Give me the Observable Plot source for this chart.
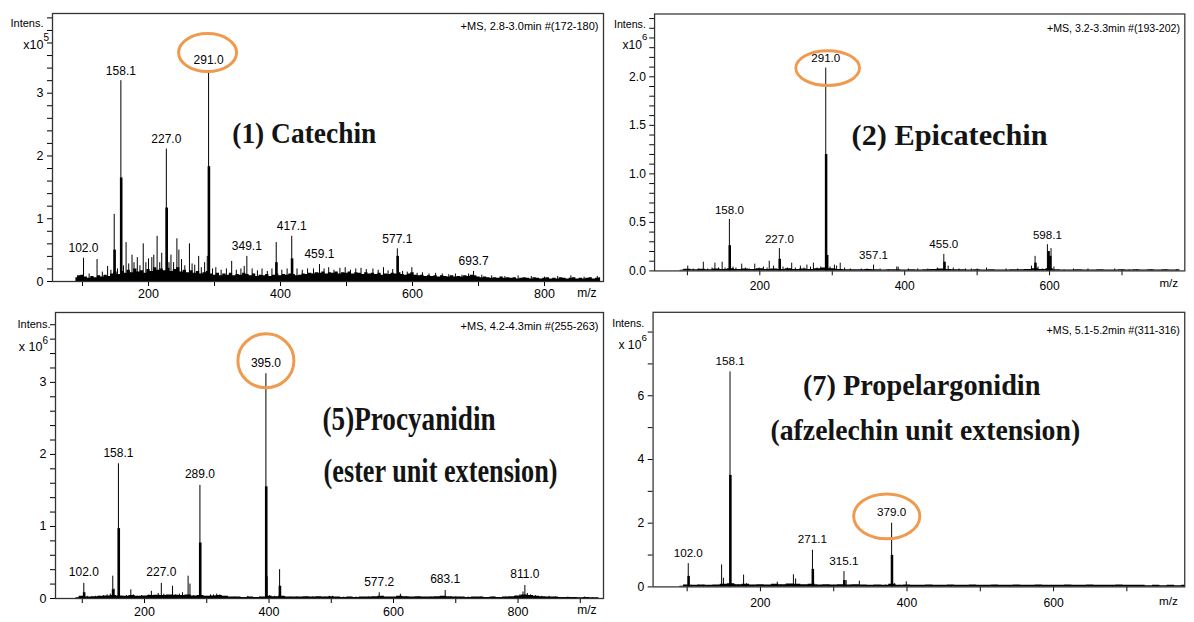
<!DOCTYPE html>
<html><head><meta charset="utf-8">
<script src="https://cdn.jsdelivr.net/npm/d3@7"></script>
<script src="https://cdn.jsdelivr.net/npm/@observablehq/plot@0.6"></script>
<style>
html,body{margin:0;padding:0;background:#fff;overflow:hidden;}
#wrap{position:relative;width:1194px;height:622px;overflow:hidden;background:#fff;}
.panel{position:absolute;}
.panel svg{overflow:visible;display:block;}
</style></head><body><div id="wrap"></div>
<script>
// ---------- Panel 1: (1) Catechin, intensity x10^5 ----------
const p1_peaks = [[101.5,0.37],[110,0.12],[122,0.35],[130,0.15],[138,0.24],[143,0.18],[148,1.07],[153,0.2],[158.1,3.2],[162,0.25],
[166,0.62],[170,0.28],[175,0.42],[178,0.3],[183,0.38],[187,0.25],[192,0.6],[196,0.3],[200,0.36],[205,0.38],
[208,0.42],[213,0.72],[217,0.3],[220,0.45],[227,2.11],[231,0.3],[234,0.42],[238,0.3],[243,0.68],[246,0.5],
[250,0.35],[255,0.25],[262,0.6],[266,0.28],[270,0.26],[276,0.4],[280,0.22],[285,0.3],[289,0.4],[291,3.36],
[297,0.2],[302,0.22],[310,0.18],[318,0.2],[326,0.32],[333,0.18],[340,0.2],[345,0.24],[349,0.4],[357,0.2],
[365,0.17],[372,0.2],[380,0.16],[387,0.2],[393.5,0.62],[402,0.18],[410,0.2],[417,0.72],[425,0.2],[433,0.18],
[441,0.2],[450,0.2],[459,0.27],[466,0.2],[473,0.22],[481,0.18],[490,0.21],[498,0.22],[506,0.18],[514,0.2],
[522,0.21],[530,0.19],[540,0.2],[548,0.18],[556,0.22],[563,0.17],[570,0.19],[577,0.52],[585,0.16],[592,0.15],
[599,0.22],[607,0.13],[615,0.14],[625,0.12],[635,0.13],[645,0.12],[655,0.11],[665,0.12],[675,0.1],[685,0.12],
[692.5,0.16],[705,0.1],[720,0.09],[740,0.08],[760,0.09],[780,0.08],[800,0.07],[820,0.08],[840,0.09],[860,0.07],[880,0.08]];
const p1_bodies = [[148.6,0.5],[158.6,1.65],[227.5,1.17],[291.5,1.83],[393.8,0.3],[417.5,0.36],[577.5,0.4]];
const p1_noiseStart = 90, p1_noiseStep = 5;
const p1_noise = [0.06,0.09,0.1,0.07,0.05,0.08,0.06,0.09,0.07,0.1,0.08,0.12,0.15,0.11,0.16,0.13,0.18,0.14,0.2,0.15,
0.17,0.13,0.19,0.16,0.22,0.18,0.2,0.17,0.21,0.16,0.19,0.22,0.15,0.18,0.14,0.17,0.13,0.16,0.12,0.14,
0.16,0.12,0.1,0.13,0.09,0.12,0.1,0.13,0.09,0.11,0.1,0.13,0.11,0.09,0.12,0.08,0.1,0.09,0.11,0.08,
0.1,0.12,0.09,0.11,0.1,0.12,0.11,0.09,0.1,0.12,0.11,0.13,0.12,0.14,0.13,0.15,0.12,0.14,0.13,0.15,
0.12,0.14,0.13,0.15,0.12,0.14,0.13,0.11,0.14,0.12,0.13,0.11,0.13,0.1,0.12,0.11,0.13,0.12,0.14,0.11,
0.1,0.12,0.14,0.1,0.09,0.1,0.08,0.09,0.08,0.09,0.07,0.09,0.08,0.07,0.09,0.07,0.08,0.07,0.09,0.08,
0.1,0.09,0.07,0.06,0.07,0.06,0.05,0.06,0.05,0.07,0.05,0.06,0.05,0.06,0.04,0.05,0.06,0.05,0.04,0.06,
0.05,0.04,0.05,0.06,0.04,0.05,0.04,0.06,0.05,0.04,0.05,0.06,0.04,0.05,0.04,0.05,0.06,0.04,0.05,0.06];
const p1_labelMz = [101.5,158.1,227,291,349,417,459,577,692.5];
const p1_labelText = ["102.0","158.1","227.0","291.0","349.1","417.1","459.1","577.1","693.7"];
const p1_xTicks = [100,200,300,400,500,600,700,800];
const p1_xMajor = [200,400,600,800];
const p1_yTicks = [0,0.2,0.4,0.6,0.8,1,1.2,1.4,1.6,1.8,2,2.2,2.4,2.6,2.8,3,3.2,3.4,3.6,3.8,4,4.2];
const p1_yMajor = [0,1,2,3];
const p1_yMajorText = ["0","1","2","3"];
const p1_titles = ["(1) Catechin"];
const p1_ms = "+MS, 2.8-3.0min #(172-180)";
const p1_exp = "5";

// ---------- Panel 2: (2) Epicatechin, intensity x10^6 ----------
const p2_peaks = [[94,0.01],[100.5,0.05],[108,0.02],[115,0.02],[122,0.09],[128,0.02],[134,0.03],[138,0.08],[143,0.03],[148,0.09],
[152,0.03],[158,0.53],[163,0.04],[167,0.03],[175,0.07],[180,0.03],[186,0.02],[193,0.07],[199,0.03],[205,0.04],
[210,0.03],[213,0.1],[219,0.05],[227,0.23],[232,0.04],[238,0.03],[244,0.08],[249,0.03],[256,0.05],[261,0.03],
[265,0.06],[270,0.04],[274,0.08],[279,0.03],[284,0.04],[291,2.09],[297,0.04],[303,0.06],[306,0.05],[311,0.08],
[317,0.03],[325,0.02],[340,0.02],[348,0.02],[357,0.06],[366,0.02],[378,0.01],[389,0.04],[391,0.04],[405,0.02],
[418,0.02],[432,0.02],[445,0.03],[454,0.17],[460,0.05],[467,0.03],[475,0.02],[484,0.02],[492,0.02],[500,0.02],
[513,0.03],[540,0.02],[556,0.02],[575,0.05],[580,0.15],[584,0.04],[590,0.02],[597,0.27],[599,0.2],[602,0.23],
[606,0.04],[620,0.01],[633,0.02],[653,0.02],[690,0.02],[700,0.01],[710,0.01],[720,0.01],[740,0.01],[760,0.01],[775,0.01]];
const p2_bodies = [[158.5,0.26],[227.5,0.12],[291.5,1.2],[293,0.16],[455,0.09],[580.5,0.08],[598.5,0.2],[601,0.15]];
const p2_noiseStart = 90, p2_noiseStep = 10;
const p2_noise = [0.006,0.018,0.012,0.018,0.012,0.02,0.016,0.022,0.016,0.02,0.016,0.022,0.016,0.02,0.016,0.022,0.016,0.02,0.016,0.022,
0.03,0.022,0.016,0.012,0.012,0.012,0.014,0.012,0.01,0.012,0.012,0.01,0.012,0.01,0.012,0.014,0.02,0.016,0.012,0.012,
0.01,0.012,0.01,0.012,0.01,0.01,0.012,0.012,0.016,0.022,0.016,0.022,0.012,0.01,0.01,0.012,0.01,0.01,0.012,0.01,
0.01,0.012,0.01,0.012,0.01,0.012,0.01,0.012,0.01,0.012];
const p2_labelMz = [158,227,291,357,454,597];
const p2_labelText = ["158.0","227.0","291.0","357.1","455.0","598.1"];
const p2_xTicks = [100,200,300,400,500,600,700];
const p2_xMajor = [200,400,600];
const p2_yTicks = [0,0.1,0.2,0.3,0.4,0.5,0.6,0.7,0.8,0.9,1,1.1,1.2,1.3,1.4,1.5,1.6,1.7,1.8,1.9,2,2.1,2.2,2.3,2.4,2.5,2.6];
const p2_yMajor = [0,0.5,1,1.5,2];
const p2_yMajorText = ["0.0","0.5","1.0","1.5","2.0"];
const p2_titles = ["(2) Epicatechin"];
const p2_ms = "+MS, 3.2-3.3min #(193-202)";
const p2_exp = "6";

// ---------- Panel 3: (5) Procyanidin, intensity x10^6 ----------
const p3_peaks = [[96,0.02],[102.5,0.21],[108,0.03],[115,0.02],[121,0.03],[128,0.03],[134,0.04],[140,0.05],[145,0.06],[149,0.31],
[151,0.13],[158.1,1.87],[165,0.03],[171,0.04],[178,0.12],[182,0.05],[188,0.03],[195,0.04],[201,0.03],[207,0.05],
[211,0.1],[216,0.04],[222,0.07],[227,0.21],[231,0.06],[236,0.04],[245,0.17],[250,0.05],[256,0.06],[261,0.08],
[266,0.04],[270,0.31],[273,0.2],[279,0.04],[284,0.03],[289,1.57],[294,0.04],[300,0.03],[306,0.05],[311,0.05],
[316,0.06],[321,0.05],[328,0.03],[345,0.02],[366,0.03],[385,0.02],[395,3.12],[397,0.3],[401,0.04],[409,0.03],
[417,0.4],[425,0.03],[435,0.02],[445,0.02],[460,0.02],[470,0.02],[480,0.02],[490,0.02],[497,0.03],[502,0.03],
[520,0.02],[540,0.02],[560,0.02],[577,0.08],[583,0.03],[611,0.06],[620,0.02],[640,0.02],[660,0.02],[683,0.11],
[700,0.02],[720,0.02],[740,0.02],[760,0.02],[780,0.02],[795,0.03],[803,0.05],[808,0.09],[811,0.18],[815,0.07],
[820,0.05],[828,0.04],[838,0.03],[850,0.03],[860,0.02],[880,0.02],[907,0.02],[920,0.01]];
const p3_bodies = [[103,0.08],[149.5,0.12],[158.6,0.97],[289.5,0.77],[395.5,1.55],[417.5,0.17]];
const p3_noiseStart = 90, p3_noiseStep = 10;
const p3_noise = [0.01,0.03,0.02,0.025,0.03,0.035,0.04,0.035,0.03,0.04,0.03,0.035,0.04,0.045,0.04,0.05,0.045,0.04,0.05,0.035,
0.04,0.03,0.035,0.04,0.03,0.02,0.02,0.015,0.02,0.015,0.02,0.03,0.025,0.03,0.02,0.02,0.02,0.025,0.02,0.025,
0.02,0.025,0.02,0.015,0.02,0.015,0.02,0.02,0.025,0.03,0.02,0.02,0.03,0.025,0.02,0.025,0.02,0.02,0.025,0.03,
0.025,0.02,0.02,0.015,0.02,0.02,0.015,0.02,0.015,0.02,0.025,0.035,0.05,0.04,0.03,0.025,0.02,0.02,0.015,0.015,
0.015,0.01,0.015,0.01,0.01];
const p3_labelMz = [102.5,158.1,227,289,395,577,683,811];
const p3_labelText = ["102.0","158.1","227.0","289.0","395.0","577.2","683.1","811.0"];
const p3_xTicks = [100,200,300,400,500,600,700,800,900];
const p3_xMajor = [200,400,600,800];
const p3_yTicks = [0,0.2,0.4,0.6,0.8,1,1.2,1.4,1.6,1.8,2,2.2,2.4,2.6,2.8,3,3.2,3.4,3.6,3.8];
const p3_yMajor = [0,1,2,3];
const p3_yMajorText = ["0","1","2","3"];
const p3_titles = ["(5)Procyanidin","(ester unit extension)"];
const p3_ms = "+MS, 4.2-4.3min #(255-263)";
const p3_exp = "6";

// ---------- Panel 4: (7) Propelargonidin, intensity x10^6 ----------
const p4_peaks = [[97,0.05],[101.5,0.73],[106,0.05],[115,0.06],[122,0.05],[130,0.03],[140,0.04],[147,0.69],[149.5,0.27],[158.5,6.75],
[165,0.08],[170,0.06],[177,0.37],[181,0.1],[186,0.05],[190,0.05],[196,0.04],[205,0.04],[212,0.03],[218,0.05],
[223,0.15],[228,0.06],[233,0.05],[238,0.06],[245,0.38],[248,0.25],[253,0.06],[258,0.04],[265,0.05],[271,1.15],
[276,0.07],[283,0.04],[293,0.05],[300,0.04],[306,0.05],[314,0.48],[317,0.2],[323,0.05],[335,0.18],[345,0.05],
[355,0.04],[365,0.05],[371,0.06],[379,2.0],[383,0.1],[390,0.05],[399,0.16],[410,0.04],[420,0.03],[434,0.05],
[445,0.04],[460,0.03],[475,0.03],[490,0.04],[505,0.03],[520,0.03],[540,0.03],[560,0.03],[580,0.03],[600,0.04],
[620,0.03],[640,0.03],[660,0.02],[680,0.03],[700,0.03],[720,0.02],[740,0.03],[760,0.02]];
const p4_bodies = [[102,0.33],[159,3.5],[271.5,0.55],[314.5,0.2],[379.5,0.99]];
const p4_noiseStart = 90, p4_noiseStep = 10;
const p4_noise = [0.02,0.06,0.05,0.06,0.05,0.06,0.08,0.1,0.07,0.08,0.06,0.07,0.06,0.08,0.07,0.09,0.08,0.07,0.08,0.06,
0.07,0.06,0.07,0.06,0.07,0.06,0.05,0.06,0.05,0.08,0.05,0.06,0.05,0.05,0.06,0.05,0.05,0.06,0.05,0.05,
0.06,0.05,0.05,0.06,0.05,0.05,0.06,0.05,0.05,0.06,0.05,0.05,0.05,0.06,0.05,0.05,0.06,0.05,0.05,0.05,
0.06,0.05,0.05,0.05,0.04,0.05,0.04,0.05,0.04,0.05];
const p4_labelMz = [101.5,158.5,271,314,379];
const p4_labelText = ["102.0","158.1","271.1","315.1","379.0"];
const p4_xTicks = [100,200,300,400,500,600,700];
const p4_xMajor = [200,400,600];
const p4_yTicks = [0,1,2,3,4,5,6,7,8];
const p4_yMajor = [0,2,4,6];
const p4_yMajorText = ["0","2","4","6"];
const p4_titles = ["(7) Propelargonidin","(afzelechin unit extension)"];
const p4_ms = "+MS, 5.1-5.2min #(311-316)";
const p4_exp = "6";

// ---------- drawing ----------
const SANS = "'Liberation Sans', Arial, Helvetica, sans-serif";
const SERIF = "'Liberation Serif', 'Times New Roman', serif";
const ORANGE = "#EF9A4E";

function ellipseSymbol(rx, ry) {
  const k = 0.5523;
  return {draw(ctx) {
    ctx.moveTo(rx, 0);
    ctx.bezierCurveTo(rx, ry * k, rx * k, ry, 0, ry);
    ctx.bezierCurveTo(-rx * k, ry, -rx, ry * k, -rx, 0);
    ctx.bezierCurveTo(-rx, -ry * k, -rx * k, -ry, 0, -ry);
    ctx.bezierCurveTo(rx * k, -ry, rx, -ry * k, rx, 0);
    ctx.closePath();
  }};
}

function makePanel(c) {
  const peaks = c.peaks.map(([mz, v]) => ({mz, v}));
  const bodies = c.bodies.map(([mz, v]) => ({mz, v}));
  const noise = c.noise.map((v, i) => ({mz: c.noiseStart + i * c.noiseStep, v}));
  const labels = c.labelMz.map((m, i) => ({mz: m, v: peaks.find(p => p.mz === m).v, t: c.labelText[i]}));
  const circ = labels.filter(d => d.mz === c.circleMz);
  const titles = c.titles.map((t, i) => ({t, mz: c.titleMz[i], v: c.titleV[i]}));
  const yLab = new Map(c.yMajor.map((d, i) => [d, c.yMajorText[i]]));
  const svg = Plot.plot({
    width: c.width, height: c.height,
    marginLeft: c.ml, marginRight: c.mr, marginTop: c.mt, marginBottom: c.mb,
    style: {fontFamily: SANS, fontSize: "12.5px", color: "#000", background: "transparent", overflow: "visible"},
    x: {domain: c.xDomain, ticks: c.xTicks, tickFormat: d => c.xMajor.includes(d) ? String(d) : "", tickSize: 5, tickPadding: c.xPad, label: null},
    y: {domain: c.yDomain, ticks: c.yTicks, tickFormat: d => yLab.has(d) ? yLab.get(d) : "", tickSize: 5, tickPadding: 4, label: null},
    marks: [
      Plot.areaY(noise, {x: "mz", y: "v", curve: "step", fill: "#000"}),
      Plot.ruleX(peaks, {x: "mz", y1: 0, y2: "v", stroke: "#000", strokeWidth: 1}),
      Plot.ruleX(bodies, {x: "mz", y1: 0, y2: "v", stroke: "#000", strokeWidth: 2.6}),
      Plot.frame({stroke: "#333", strokeWidth: 1.3}),
      Plot.text(labels, {x: "mz", y: "v", text: "t", dy: c.labelDy, fontSize: 12}),
      Plot.dot(circ, {x: "mz", y: "v", dx: c.circ[0], dy: c.circ[1], symbol: ellipseSymbol(c.circ[2], c.circ[3]), stroke: ORANGE, strokeWidth: 3, fill: "none"}),
      Plot.text(titles, {x: "mz", y: "v", text: "t", textAnchor: c.titleAnchor, fontFamily: SERIF, fontWeight: "bold", fontSize: c.titleSize, fill: "#141414"}),
      Plot.text([c.ms], {text: d => d, frameAnchor: "top-right", dx: -5, dy: c.msDy, textAnchor: "end", fontSize: 11}),
      Plot.text(["m/z"], {text: d => d, frameAnchor: "bottom-right", dx: -7, dy: c.mzDy, textAnchor: "end", fontSize: 12}),
      Plot.text(["Intens."], {text: d => d, frameAnchor: "top-left", dx: c.intens[0], dy: c.intens[1], textAnchor: "end", fontSize: 11}),
      Plot.text([c.x10], {text: d => d, frameAnchor: "top-left", dx: c.xten[0], dy: c.xten[1], textAnchor: "end", fontSize: 12.5}),
      Plot.text([c.exp], {text: d => d, frameAnchor: "top-left", dx: c.xten[0], dy: c.xten[2], textAnchor: "start", fontSize: 10})
    ]
  });
  svg.querySelectorAll("text").forEach(t => {
    const i = c.titles.indexOf(t.textContent);
    if (i >= 0) { t.setAttribute("textLength", c.titleLen[i]); t.setAttribute("lengthAdjust", "spacingAndGlyphs"); }
  });
  const div = document.createElement("div");
  div.className = "panel";
  div.style.left = c.left + "px";
  div.style.top = c.top + "px";
  div.appendChild(svg);
  document.getElementById("wrap").appendChild(div);
}

makePanel({left: 0, top: 0, width: 610, height: 305, ml: 52, mr: 7, mt: 13, mb: 24,
  xDomain: [54.5, 889.4], yDomain: [0, 4.27], xPad: 3,
  peaks: p1_peaks, bodies: p1_bodies, noise: p1_noise, noiseStart: p1_noiseStart, noiseStep: p1_noiseStep,
  labelMz: p1_labelMz, labelText: p1_labelText, labelDy: -10, circleMz: 291, circ: [-1, -18, 29, 19],
  xTicks: p1_xTicks, xMajor: p1_xMajor, yTicks: p1_yTicks, yMajor: p1_yMajor, yMajorText: p1_yMajorText,
  titles: p1_titles, titleMz: [436], titleV: [2.36], titleAnchor: "middle", titleSize: 30, titleLen: [144],
  ms: p1_ms, msDy: 9, mzDy: 15, intens: [-9, 6], x10: "x10", exp: p1_exp, xten: [-9, 27, 20]});

makePanel({left: 600, top: 0, width: 615, height: 305, ml: 56, mr: 10, mt: 14, mb: 25,
  xDomain: [54.7, 786.7], yDomain: [0, 2.647], xPad: 6,
  peaks: p2_peaks, bodies: p2_bodies, noise: p2_noise, noiseStart: p2_noiseStart, noiseStep: p2_noiseStep,
  labelMz: p2_labelMz, labelText: p2_labelText, labelDy: -10, circleMz: 291, circ: [2, 0, 33, 18],
  xTicks: p2_xTicks, xMajor: p2_xMajor, yTicks: p2_yTicks, yMajor: p2_yMajor, yMajorText: p2_yMajorText,
  titles: p2_titles, titleMz: [462], titleV: [1.39], titleAnchor: "middle", titleSize: 30, titleLen: [203],
  ms: p2_ms, msDy: 11, mzDy: 17, intens: [-9, 7], x10: "x10", exp: p2_exp, xten: [-13, 27, 20]});

makePanel({left: 0, top: 305, width: 610, height: 317, ml: 55, mr: 7, mt: 7, mb: 24,
  xDomain: [57, 937.3], yDomain: [0, 3.97], xPad: 4,
  peaks: p3_peaks, bodies: p3_bodies, noise: p3_noise, noiseStart: p3_noiseStart, noiseStep: p3_noiseStep,
  labelMz: p3_labelMz, labelText: p3_labelText, labelDy: -11, circleMz: 395, circ: [0, -13, 28, 27],
  xTicks: p3_xTicks, xMajor: p3_xMajor, yTicks: p3_yTicks, yMajor: p3_yMajor, yMajorText: p3_yMajorText,
  titles: p3_titles, titleMz: [486, 487.6], titleV: [2.48, 1.77], titleAnchor: "start", titleSize: 33, titleLen: [173, 234],
  ms: p3_ms, msDy: 10, mzDy: 15, intens: [-5, 8], x10: "x 10", exp: p3_exp, xten: [-13, 30, 24]});

makePanel({left: 600, top: 305, width: 610, height: 317, ml: 54, mr: 10, mt: 7, mb: 28,
  xDomain: [53.5, 779], yDomain: [0, 8.62], xPad: 7,
  peaks: p4_peaks, bodies: p4_bodies, noise: p4_noise, noiseStart: p4_noiseStart, noiseStep: p4_noiseStep,
  labelMz: p4_labelMz, labelText: p4_labelText, labelDy: -11, circleMz: 379, circ: [-5, -7, 34, 23],
  xTicks: p4_xTicks, xMajor: p4_xMajor, yTicks: p4_yTicks, yMajor: p4_yMajor, yMajorText: p4_yMajorText,
  titles: p4_titles, titleMz: [420, 425], titleV: [6.32, 4.89], titleAnchor: "middle", titleSize: 30, titleLen: [244, 318],
  ms: p4_ms, msDy: 14, mzDy: 19, intens: [-9, 7], x10: "x 10", exp: p4_exp, xten: [-12, 29, 22]});
</script></body></html>
